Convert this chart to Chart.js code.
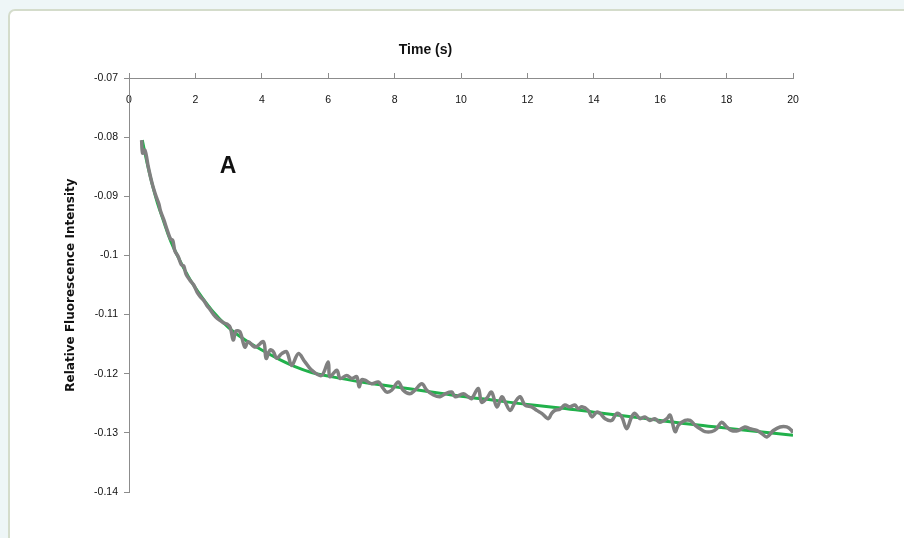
<!DOCTYPE html>
<html>
<head>
<meta charset="utf-8">
<script src="https://cdn.jsdelivr.net/npm/chart.js@4.4.1/dist/chart.umd.min.js"></script>
<style>
  html, body { margin: 0; padding: 0; background: #eef6f7; width: 904px; height: 538px; overflow: hidden; }
  #panel { position: absolute; left: 8px; top: 9px; width: 920px; height: 560px; background: #ffffff;
           border: 2px solid #d4dccb; border-radius: 7px; box-sizing: border-box; }
  #wrap { position: absolute; left: 0; top: 0; width: 904px; height: 538px; }
</style>
</head>
<body>
<div id="panel"></div>
<div id="wrap"><canvas id="c" width="904" height="538"></canvas></div>
<script>
// ---- data ----
const xAxisTitle = 'Time (s)';
const yAxisTitle = 'Relative Fluorescence Intensity';
const panelLabel = 'A';
const panelLabelPos = [2.98, -0.0850];
const xTicks = [0, 2, 4, 6, 8, 10, 12, 14, 16, 18, 20];
const yTicks = [-0.07, -0.08, -0.09, -0.1, -0.11, -0.12, -0.13, -0.14];

const dataTime = [0.38,0.41,0.48,0.58,0.70,0.82,0.90,0.95,1.05,1.15,1.25,1.32,1.38,1.48,1.58,1.65,1.72,1.85,1.95,2.05,2.15,2.25,2.35,2.45,2.55,2.65,2.75,2.85,2.95,3.05,3.14,3.22,3.34,3.49,3.59,3.80,4.05,4.13,4.25,4.35,4.45,4.60,4.75,4.90,5.10,5.30,5.50,5.80,6.00,6.05,6.26,6.36,6.56,6.71,6.86,6.93,7.01,7.11,7.31,7.51,7.66,7.76,7.91,8.11,8.26,8.46,8.61,8.82,8.97,9.17,9.37,9.52,9.72,9.82,10.07,10.22,10.32,10.52,10.62,10.77,10.92,11.08,11.23,11.33,11.48,11.63,11.78,11.93,12.13,12.28,12.43,12.63,12.73,12.83,12.98,13.13,13.28,13.43,13.53,13.64,13.83,13.94,14.09,14.19,14.34,14.54,14.69,14.84,14.99,15.14,15.24,15.39,15.54,15.69,15.84,15.99,16.20,16.30,16.45,16.55,16.75,16.90,17.05,17.20,17.35,17.55,17.70,17.85,18.00,18.15,18.35,18.55,18.70,18.91,19.06,19.21,19.41,19.61,19.81,19.96,19.99];
const dataValue = [-0.0805,-0.0827,-0.0822,-0.0850,-0.0879,-0.0901,-0.0913,-0.0925,-0.0940,-0.0957,-0.0972,-0.0975,-0.0992,-0.1002,-0.1016,-0.1018,-0.1032,-0.1043,-0.1050,-0.1062,-0.1070,-0.1076,-0.1085,-0.1092,-0.1100,-0.1106,-0.1110,-0.1114,-0.1116,-0.1122,-0.1143,-0.1128,-0.1129,-0.1155,-0.1146,-0.1155,-0.1146,-0.1174,-0.1160,-0.1163,-0.1174,-0.1166,-0.1163,-0.1186,-0.1166,-0.1180,-0.1194,-0.1203,-0.1180,-0.1205,-0.1194,-0.1208,-0.1203,-0.1208,-0.1205,-0.1222,-0.1210,-0.1211,-0.1217,-0.1214,-0.1225,-0.1231,-0.1228,-0.1214,-0.1228,-0.1234,-0.1228,-0.1217,-0.1228,-0.1236,-0.1239,-0.1234,-0.1231,-0.1239,-0.1234,-0.1239,-0.1242,-0.1225,-0.1248,-0.1242,-0.1231,-0.1256,-0.1239,-0.1248,-0.1262,-0.1248,-0.1239,-0.1253,-0.1256,-0.1262,-0.1267,-0.1276,-0.1267,-0.1262,-0.1260,-0.1253,-0.1256,-0.1253,-0.1259,-0.1256,-0.1262,-0.1273,-0.1265,-0.1267,-0.1276,-0.1279,-0.1267,-0.1273,-0.1293,-0.1273,-0.1267,-0.1276,-0.1273,-0.1279,-0.1276,-0.1282,-0.1276,-0.1270,-0.1298,-0.1287,-0.1279,-0.1279,-0.1287,-0.1293,-0.1298,-0.1298,-0.1293,-0.1282,-0.1290,-0.1296,-0.1296,-0.1290,-0.1293,-0.1296,-0.1301,-0.1307,-0.1296,-0.1290,-0.1290,-0.1296,-0.1300];

const fitTime = [0.40,0.55,0.70,0.85,1.0,1.25,1.5,1.75,2.0,2.5,3.0,3.5,4.0,4.5,5.0,5.5,6.0,7.0,8.0,9.0,10,11,12,13,14,15,16,17,18,19,20];
const fitValue = [-0.0805,-0.0845,-0.0880,-0.0910,-0.0935,-0.0975,-0.1005,-0.1032,-0.1055,-0.1093,-0.1122,-0.1143,-0.1160,-0.1175,-0.1188,-0.1198,-0.1204,-0.1214,-0.1222,-0.1230,-0.1238,-0.1245,-0.1252,-0.1258,-0.1265,-0.1272,-0.1279,-0.1286,-0.1292,-0.1298,-0.1304];

// ---- chart ----
const dataPoints = dataTime.map((t, i) => ({ x: t, y: dataValue[i] }));
const fitPoints = fitTime.map((t, i) => ({ x: t, y: fitValue[i] }));

const labelPlugin = {
  id: 'panelLabel',
  afterDatasetsDraw(chart) {
    const ctx = chart.ctx;
    const xs = chart.scales.x, ys = chart.scales.y;
    ctx.save();
    ctx.font = 'bold 23px "Liberation Sans", Arial, sans-serif';
    ctx.fillStyle = '#111111';
    ctx.textAlign = 'center';
    ctx.textBaseline = 'middle';
    ctx.fillText(panelLabel, xs.getPixelForValue(panelLabelPos[0]), ys.getPixelForValue(panelLabelPos[1]));
    ctx.restore();
  }
};

const axisColor = '#8c8c8c';
const tickFont = { family: '"Liberation Sans", Arial, sans-serif', size: 10.5 };

new Chart(document.getElementById('c'), {
  type: 'line',
  data: {
    datasets: [
      { data: dataPoints, borderColor: '#808080', borderWidth: 3.5, pointRadius: 0, tension: 0.35, fill: false },
      { data: fitPoints, borderColor: '#21b14b', borderWidth: 3, pointRadius: 0, tension: 0.4, fill: false }
    ]
  },
  options: {
    responsive: false,
    animation: false,
    layout: { padding: { left: 58, right: 111, top: 0, bottom: 46 } },
    plugins: {
      legend: { display: false },
      tooltip: { enabled: false },
      title: {
        display: true, text: xAxisTitle, color: '#111111',
        font: { family: '"Liberation Sans", Arial, sans-serif', size: 14, weight: 'bold' },
        padding: { top: 42, bottom: 0 }
      }
    },
    scales: {
      x: {
        type: 'linear', position: 'top', min: 0, max: 20,
        afterBuildTicks: s => { s.ticks = xTicks.map(v => ({ value: v })); },
        afterFit: s => { s.height = 19.2; },
        ticks: { mirror: true, padding: 16, color: '#111111', font: tickFont, maxRotation: 0,
                 callback: v => String(v) },
        grid: { display: true, drawOnChartArea: false, drawTicks: true, tickLength: 5, color: axisColor },
        border: { display: true, color: axisColor, width: 1 }
      },
      y: {
        type: 'linear', min: -0.14, max: -0.07,
        afterBuildTicks: s => { s.ticks = yTicks.map(v => ({ value: v })); },
        afterFit: s => { s.width = 71; },
        ticks: { padding: 6, color: '#111111', font: tickFont,
                 callback: v => String(parseFloat(Number(v).toFixed(2))) },
        grid: { display: true, drawOnChartArea: false, drawTicks: true, tickLength: 5, color: axisColor },
        border: { display: true, color: axisColor, width: 1 },
        title: { display: true, text: yAxisTitle, color: '#111111',
                 font: { family: '"DejaVu Sans", sans-serif', size: 12, weight: 'bold' },
                 padding: { top: 6, bottom: 0 } }
      }
    }
  },
  plugins: [labelPlugin]
});
</script>
</body>
</html>
